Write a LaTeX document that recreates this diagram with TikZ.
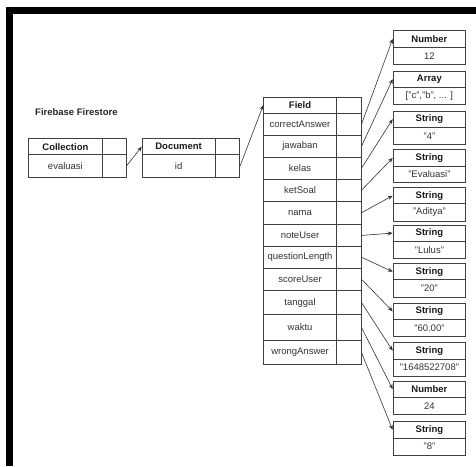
\documentclass[tikz,border=0pt]{standalone}
\usepackage{fontspec}
\setmainfont{Liberation Sans}
\usetikzlibrary{arrows.meta}
\tikzset{
  cell/.style={draw=black!75, line width=0.8pt, inner sep=0pt, text=black!80, font=\fontsize{9.5}{11}\selectfont},
  head/.style={font=\fontsize{9.5}{11}\selectfont\bfseries, text=black!90},
  arr/.style={draw=black!80, line width=0.6pt, -{Stealth[length=5pt,width=4pt]}},
  lbl/.style={font=\fontsize{9.5}{11}\selectfont\bfseries, text=black!85, inner sep=0pt},
  framebar/.style={fill=black, draw=none}
}
\newcommand\tcell[7]{%
  \pgfmathsetmacro\cw{#4-#2}\pgfmathsetmacro\ch{#5-#3}%
  \node[cell,#6,minimum width=\cw pt,minimum height=\ch pt,anchor=north west] (#1) at (#2,#3) {#7};}
% value box: name, top, div, bottom, title, value
\newcommand\valbox[6]{%
  \tcell{#1t}{392.7}{#2}{465.3}{#3}{head}{#5}%
  \tcell{#1v}{392.7}{#3}{465.3}{#4}{}{#6}}
% field row: name, top, bottom, text
\newcommand\frow[4]{%
  \tcell{#1}{263.3}{#2}{336}{#3}{}{#4}%
  \tcell{#1x}{336}{#2}{360.7}{#3}{}{}}
\begin{document}
\begin{tikzpicture}[x=1pt,y=-1pt]
\useasboundingbox (0,0) rectangle (476,466);
% frame
\fill[framebar] (6,7) rectangle (476,14);
\fill[framebar] (6,7) rectangle (13,466);
% title
\node[lbl, anchor=west] (title) at (35,112.3) {Firebase Firestore};
% collection
\tcell{ct}{28.3}{138.3}{101.7}{154.3}{head}{Collection}
\tcell{cx1}{101.7}{138.3}{125.7}{154.3}{}{}
\tcell{cv}{28.3}{154.3}{101.7}{176.7}{}{evaluasi}
\tcell{cx2}{101.7}{154.3}{125.7}{176.7}{}{}
% document
\tcell{dt}{141.7}{138.3}{214.7}{154.3}{head}{Document}
\tcell{dx1}{214.7}{138.3}{239.3}{154.3}{}{}
\tcell{dv}{141.7}{154.3}{214.7}{176.7}{}{id}
\tcell{dx2}{214.7}{154.3}{239.3}{176.7}{}{}
% field
\tcell{ft}{263.3}{96.7}{336}{112.7}{head}{Field}
\tcell{ftx}{336}{96.7}{360.7}{112.7}{}{}
\frow{r1}{112.7}{135}{correctAnswer}
\frow{r2}{135}{156.7}{jawaban}
\frow{r3}{156.7}{179}{kelas}
\frow{r4}{179}{200.7}{ketSoal}
\frow{r5}{200.7}{224}{nama}
\frow{r6}{224}{246}{noteUser}
\frow{r7}{246}{267.7}{questionLength}
\frow{r8}{267.7}{290}{scoreUser}
\frow{r9}{290}{314.3}{tanggal}
\frow{r10}{314.3}{340}{waktu}
\frow{r11}{340}{364.3}{wrongAnswer}
% value boxes
\valbox{b1}{30}{46.7}{64}{Number}{12}
\valbox{b2}{70.7}{86.7}{104.3}{Array}{["c","b", ... ]}
\valbox{b3}{110.7}{126.7}{144}{String}{"4"}
\valbox{b4}{149.3}{165.7}{182.3}{String}{"Evaluasi"}
\valbox{b5}{187.3}{203.3}{220.7}{String}{"Aditya"}
\valbox{b6}{224.7}{240.7}{258}{String}{"Lulus"}
\valbox{b7}{263.3}{279.3}{296.7}{String}{"20"}
\valbox{b8}{302.7}{319.3}{336}{String}{"60.00"}
\valbox{b9}{342}{358.7}{375.7}{String}{"1648522708"}
\valbox{b10}{380.7}{396.7}{414}{Number}{24}
\valbox{b11}{421.3}{437.7}{454.7}{String}{"8"}
% arrows
\draw[arr] (cx2.east) -- (dt.west);
\draw[arr] (dx2.east) -- (ft.west);
\foreach \i in {1,...,11}{
  \draw[arr] (r\i x.east) -- (b\i t.west);
}
\end{tikzpicture}
\end{document}
